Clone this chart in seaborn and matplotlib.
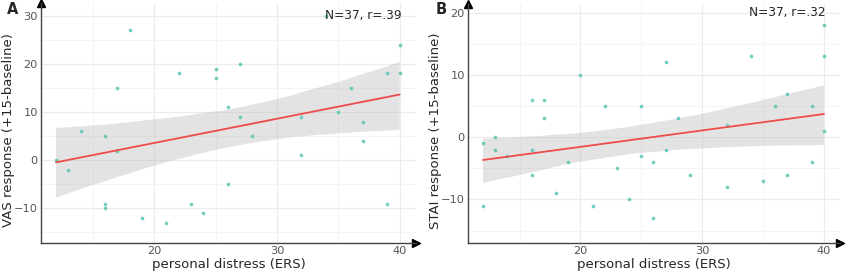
import numpy as np
import pandas as pd
import matplotlib
matplotlib.use("Agg")
import matplotlib.pyplot as plt
import seaborn as sns

# Panel A: VAS response vs personal distress
vas_x = [12, 13, 14, 16, 16, 16, 17, 17, 18, 19, 21, 22, 23, 24, 25, 25,
         26, 26, 27, 27, 28, 32, 32, 34, 35, 36, 37, 37, 39, 39, 40, 40]
vas_y = [0, -2, 6, 5, -9, -10, 15, 2, 27, -12, -13, 18, -9, -11, 19, 17,
         11, -5, 20, 9, 5, 9, 1, 30, 10, 15, 8, 4, 18, -9, 24, 18]

# Panel B: STAI response vs personal distress
stai_x = [12, 12, 13, 13, 14, 16, 16, 16, 17, 17, 18, 19, 20, 21, 22, 23,
          24, 25, 25, 26, 26, 27, 27, 28, 29, 32, 32, 34, 35, 36, 37, 37,
          39, 39, 40, 40, 40]
stai_y = [-1, -11, 0, -2, -3, 6, -2, -6, 6, 3, -9, -4, 10, -11, 5, -5,
          -10, 5, -3, -4, -13, 12, -2, 3, -6, 2, -8, 13, -7, 5, 7, -6,
          5, -4, 18, 13, 1]

xlabel = "personal distress (ERS)"
ylabels = ["VAS response (+15-baseline)", "STAI response (+15-baseline)"]
notes = ["N=37, r=.39", "N=37, r=.32"]
letters = ["A", "B"]
yticks = [[-10, 0, 10, 20, 30], [-10, 0, 10, 20]]
ylims = [(-17.2, 32.6), (-17.0, 21.4)]
note_y = [30, 20]
ylabel_x = [-0.087, -0.089]

sns.set_theme(style="white")
plt.rcParams["font.family"] = ["DejaVu Sans"]

fig = plt.figure(figsize=(8.5, 2.79), dpi=100)
ax_a = fig.add_axes([0.0485, 0.129, 0.4405, 0.860])
ax_b = fig.add_axes([0.551, 0.129, 0.437, 0.857])

frames = [pd.DataFrame({"x": vas_x, "y": vas_y}),
          pd.DataFrame({"x": stai_x, "y": stai_y})]

for i, (ax, df) in enumerate(zip([ax_a, ax_b], frames)):
    sns.regplot(data=df, x="x", y="y", ax=ax, ci=95, seed=1, n_boot=4000,
                scatter_kws=dict(s=7, color="#4fc4b0", linewidths=0, zorder=3),
                line_kws=dict(color="#ee4b4b", lw=1.3, zorder=4))
    # make the band a flat ggplot-like grey
    for coll in ax.collections[1:]:
        coll.set_facecolor("#bdbdbd")
        coll.set_alpha(0.42)
        coll.set_edgecolor("none")

    ax.set_xlim(10.8, 41.3)
    ax.set_ylim(*ylims[i])
    ax.set_xticks([20, 30, 40])
    ax.set_xticks([15, 25, 35], minor=True)
    ax.set_yticks(yticks[i])
    ax.set_yticks([t + 5 for t in [-20] + yticks[i]][:-1], minor=True)
    ax.grid(which="major", color="#ebebeb", lw=0.8)
    ax.grid(which="minor", color="#f3f3f3", lw=0.6)
    ax.set_axisbelow(True)
    ax.tick_params(axis="both", which="both", length=0, labelsize=8.2,
                   labelcolor="#555555", pad=2.5)

    sns.despine(ax=ax)
    for side in ["left", "bottom"]:
        ax.spines[side].set_color("#444444")
        ax.spines[side].set_linewidth(1.0)
    ax.plot(1, 0, ">", color="black", ms=6, transform=ax.transAxes, clip_on=False)
    ax.plot(0, 1, "^", color="black", ms=6, transform=ax.transAxes, clip_on=False)

    ax.set_xlabel(xlabel, fontsize=9.5, labelpad=1)
    ax.set_ylabel(ylabels[i], fontsize=9.5, va="center")
    ax.yaxis.set_label_coords(ylabel_x[i], 0.47)
    ax.text(37, note_y[i], notes[i], ha="center", va="center", fontsize=8.7)

fig.text(0.008, 0.965, letters[0], fontsize=10.5, fontweight="bold", va="center")
fig.text(0.512, 0.965, letters[1], fontsize=10.5, fontweight="bold", va="center")

fig.savefig("out.png", dpi=100)
